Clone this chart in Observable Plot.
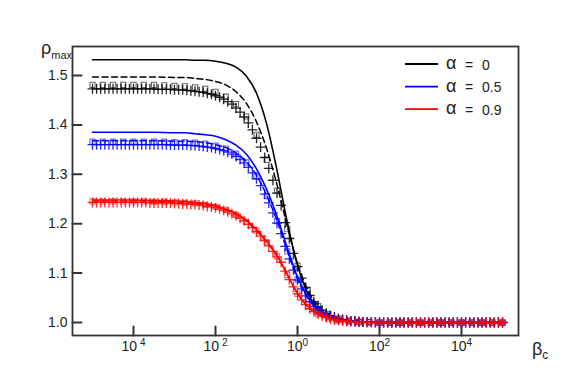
<!DOCTYPE html>
<html><head><meta charset="utf-8">
<script src="https://cdn.jsdelivr.net/npm/d3@7"></script>
<script src="https://cdn.jsdelivr.net/npm/@observablehq/plot@0.6"></script>
<style>
body{margin:0;background:#fff}
#chart{position:relative;width:576px;height:384px}
</style>
</head><body><div id="chart"></div>
<script>
// ---- data (log10 of beta_c and rho_max values) ----
const alphaLabels = ["0", "0.5", "0.9"];
const colors = ["#000000", "#0000ff", "#ff0000"];

// smooth curves (solid & dashed)
const lgLine = [-5,-4,-3.5,-3,-2.75,-2.5,-2.25,-2,-1.75,-1.5,-1.25,-1,-0.75,-0.5,-0.25,0,0.25,0.5,0.75,1,1.25,1.5,1.75,2,2.5,3,4,5];
const solid0 = [1.532,1.532,1.532,1.532,1.532,1.531,1.531,1.529,1.525,1.517,1.499,1.464,1.401,1.308,1.203,1.116,1.059,1.028,1.013,1.006,1.003,1.001,1.001,1.000,1.000,1.000,1.000,1.000];
const dash0  = [1.497,1.497,1.497,1.496,1.496,1.494,1.492,1.488,1.481,1.467,1.444,1.406,1.351,1.279,1.195,1.119,1.066,1.034,1.017,1.008,1.004,1.002,1.001,1.000,1.000,1.000,1.000,1.000];
const solid5 = [1.385,1.385,1.385,1.384,1.384,1.382,1.380,1.377,1.370,1.359,1.341,1.311,1.269,1.215,1.151,1.092,1.051,1.026,1.013,1.007,1.003,1.002,1.001,1.000,1.000,1.000,1.000,1.000];
const dash5  = [1.368,1.368,1.368,1.367,1.367,1.366,1.364,1.360,1.354,1.343,1.326,1.298,1.257,1.206,1.145,1.088,1.049,1.025,1.013,1.006,1.003,1.001,1.001,1.000,1.000,1.000,1.000,1.000];
const solid9 = [1.248,1.248,1.247,1.246,1.245,1.243,1.241,1.237,1.230,1.221,1.207,1.188,1.164,1.136,1.097,1.059,1.033,1.017,1.009,1.004,1.002,1.001,1.000,1.000,1.000,1.000,1.000,1.000];
const dash9  = [1.246,1.246,1.245,1.244,1.243,1.242,1.239,1.235,1.228,1.219,1.205,1.186,1.162,1.135,1.097,1.059,1.032,1.017,1.008,1.004,1.002,1.001,1.000,1.000,1.000,1.000,1.000,1.000];

// square markers
const lgSquare = [-5,-4.75,-4.5,-4.25,-4,-3.75,-3.5,-3.25,-3,-2.75,-2.5,-2.25,-2,-1.75,-1.5,-1.25,-1,-0.75,-0.5,-0.25,0,0.25,0.5,0.75,1,1.25,1.5,1.75,2,2.25,2.5,2.75,3,3.25,3.5,3.75,4,4.25,4.5,4.75,5];
const square0 = [1.481,1.481,1.481,1.481,1.481,1.481,1.481,1.480,1.479,1.478,1.476,1.473,1.467,1.457,1.442,1.417,1.380,1.329,1.267,1.189,1.115,1.063,1.033,1.017,1.008,1.004,1.002,1.001,1.000,1.000,1.000,1.000,1.000,1.000,1.000,1.000,1.000,1.000,1.000,1.000,1.000];
const square5 = [1.366,1.366,1.366,1.366,1.366,1.366,1.366,1.366,1.365,1.365,1.364,1.362,1.358,1.352,1.342,1.324,1.296,1.256,1.205,1.144,1.087,1.048,1.025,1.013,1.006,1.003,1.001,1.001,1.000,1.000,1.000,1.000,1.000,1.000,1.000,1.000,1.000,1.000,1.000,1.000,1.000];
const square9 = [1.245,1.245,1.245,1.245,1.245,1.245,1.244,1.244,1.243,1.242,1.241,1.238,1.234,1.228,1.218,1.204,1.186,1.162,1.134,1.096,1.058,1.032,1.017,1.008,1.004,1.002,1.001,1.000,1.000,1.000,1.000,1.000,1.000,1.000,1.000,1.000,1.000,1.000,1.000,1.000,1.000];

// plus markers
const lgPlus = [-5,-4.9,-4.8,-4.7,-4.6,-4.5,-4.4,-4.3,-4.2,-4.1,-4,-3.9,-3.8,-3.7,-3.6,-3.5,-3.4,-3.3,-3.2,-3.1,-3,-2.9,-2.8,-2.7,-2.6,-2.5,-2.4,-2.3,-2.2,-2.1,-2,-1.9,-1.8,-1.7,-1.6,-1.5,-1.4,-1.3,-1.2,-1.1,-1,-0.9,-0.8,-0.7,-0.6,-0.5,-0.4,-0.3,-0.2,-0.1,0,0.1,0.2,0.3,0.4,0.5,0.6,0.7,0.8,0.9,1,1.1,1.2,1.3,1.4,1.5,1.6,1.7,1.8,1.9,2,2.1,2.2,2.3,2.4,2.5,2.6,2.7,2.8,2.9,3,3.1,3.2,3.3,3.4,3.5,3.6,3.7,3.8,3.9,4,4.1,4.2,4.3,4.4,4.5,4.6,4.7,4.8,4.9,5];
const plus0 = [1.473,1.473,1.473,1.473,1.473,1.473,1.473,1.473,1.473,1.473,1.473,1.473,1.473,1.473,1.473,1.473,
  1.472,1.472,1.472,1.472,1.471,1.471,1.471,1.470,1.469,1.468,
  1.467,1.466,1.464,1.462,1.459,1.456,1.452,1.447,1.442,1.434,
  1.426,1.416,1.404,1.390,1.373,1.355,1.334,1.312,1.288,1.262,
  1.237,1.202,1.170,1.140,1.113,1.090,1.071,1.055,1.042,1.032,
  1.025,1.019,1.014,1.011,1.008,1.006,1.005,1.003,1.003,1.002,
  1.001,1.001,1.001,1.001,
  1.000,1.000,1.000,1.000,1.000,1.000,1.000,1.000,1.000,1.000,1.000,1.000,1.000,1.000,1.000,1.000,1.000,1.000,1.000,1.000,1.000,1.000,1.000,1.000,1.000,1.000,1.000,1.000,1.000,1.000,1.000];
const plus5 = [1.360,1.360,1.360,1.360,1.360,1.360,1.360,1.360,1.360,1.360,1.360,1.360,1.360,1.360,1.360,1.360,1.360,1.360,1.360,
  1.359,1.359,1.359,1.359,1.359,
  1.358,1.358,1.357,1.356,1.355,1.354,1.352,1.350,1.348,1.345,
  1.341,1.336,1.330,1.323,1.314,1.303,1.291,1.277,1.260,1.242,
  1.222,1.201,1.180,1.154,1.129,1.106,1.086,1.068,1.054,1.042,
  1.032,1.025,1.019,1.014,1.011,1.008,1.006,1.005,1.003,1.003,
  1.002,1.001,1.001,1.001,1.001,
  1.000,1.000,1.000,1.000,1.000,1.000,1.000,1.000,1.000,1.000,1.000,1.000,1.000,1.000,1.000,1.000,1.000,1.000,1.000,1.000,1.000,1.000,1.000,1.000,1.000,1.000,1.000,1.000,1.000,1.000,1.000,1.000];
const plus9 = [1.243,1.243,1.243,1.243,1.243,1.243,1.243,1.243,1.243,1.243,1.243,1.243,1.243,1.243,
  1.242,1.242,1.242,1.242,1.242,1.242,
  1.241,1.241,1.240,1.240,1.239,1.239,1.238,1.237,1.235,1.234,
  1.232,1.230,1.227,1.224,1.220,1.216,1.211,1.206,1.199,1.192,
  1.184,1.175,1.166,1.155,1.144,1.133,1.122,1.104,1.087,1.072,
  1.058,1.046,1.036,1.028,1.022,1.017,1.013,1.010,1.007,1.005,
  1.004,1.003,1.002,1.002,1.001,1.001,1.001,
  1.000,1.000,1.000,1.000,1.000,1.000,1.000,1.000,1.000,1.000,1.000,1.000,1.000,1.000,1.000,1.000,1.000,1.000,1.000,1.000,1.000,1.000,1.000,1.000,1.000,1.000,1.000,1.000,1.000,1.000,1.000,1.000,1.000,1.000];

// axes
const xTickLg = [-4, -2, 0, 2, 4];
const xTickExp = ["\u00a04", "\u00a02", "0", "2", "4"];
const yTicks = [1.0, 1.1, 1.2, 1.3, 1.4, 1.5];
const yTickLabels = ["1.0", "1.1", "1.2", "1.3", "1.4", "1.5"];
const xLabel = ["β", "c"];
const yLabel = ["ρ", "max"];

// ---- build tables ----
const rows = (lgs, vals) => lgs.map((lg, i) => ({b: Math.pow(10, lg), v: vals[i]})).filter(d => d.v != null);
const solids = [solid0, solid5, solid9], dashes = [dash0, dash5, dash9];
const squares = [square0, square5, square9], pluses = [plus0, plus5, plus9];

const tickShape = {draw(context, l) { context.moveTo(0, 0); context.lineTo(0, -l); }};
const frameColor = "#333333";

const marks = [];
for (let k = 0; k < 3; k++) {
  const c = colors[k];
  marks.push(Plot.line(rows(lgLine, solids[k]), {x: "b", y: "v", stroke: c, strokeWidth: 1.6, curve: "monotone-x"}));
  marks.push(Plot.line(rows(lgLine, dashes[k]), {x: "b", y: "v", stroke: c, strokeWidth: 1.5, strokeDasharray: "6,3.5", curve: "monotone-x"}));
  marks.push(Plot.dot(rows(lgSquare, squares[k]), {x: "b", y: "v", symbol: "square", r: 2.9, stroke: c, fill: "none", strokeWidth: 1.1, strokeOpacity: 0.6}));
  marks.push(Plot.dot(rows(lgPlus, pluses[k]), {x: "b", y: "v", symbol: "plus", r: 3.3, stroke: c, strokeWidth: 1.3, strokeOpacity: 0.85}));
}

const xTickVals = xTickLg.map(lg => Math.pow(10, lg));
marks.push(Plot.frame({stroke: frameColor, strokeWidth: 1.8}));
marks.push(Plot.vector(xTickVals, {x: d => d, frameAnchor: "bottom", length: 9, anchor: "start", shape: tickShape, stroke: frameColor, strokeWidth: 2}));
marks.push(Plot.vector(yTicks, {y: d => d, frameAnchor: "left", length: 9, rotate: 90, anchor: "start", shape: tickShape, stroke: frameColor, strokeWidth: 2}));
marks.push(Plot.axisX(xTickVals, {tickSize: 0, tickPadding: 6, fontSize: 14, fill: "#222", label: null,
  tickFormat: d => xTickExp[xTickLg.indexOf(Math.round(Math.log10(d)))]}));
marks.push(Plot.axisY(yTicks, {tickSize: 0, tickPadding: 5, fontSize: 14, fill: "#222", label: null,
  tickFormat: d => yTickLabels[yTicks.indexOf(d)]}));

const svg = Plot.plot({
  width: 576, height: 384,
  marginLeft: 72, marginRight: 58, marginTop: 46, marginBottom: 49,
  style: {fontFamily: "'Liberation Sans', Arial, sans-serif", background: "#fff", color: "#222"},
  x: {type: "log", domain: [Math.pow(10, -5.488), Math.pow(10, 5.39)], axis: null, label: null},
  y: {domain: [0.9737, 1.5587], axis: null, label: null},
  marks
});
document.getElementById("chart").appendChild(svg);

const s = d3.select(svg);
// superscript exponents on x tick labels
s.selectAll('g[aria-label="x-axis tick label"] text').each(function() {
  const e = this.textContent;
  const t = d3.select(this);
  t.text("10");
  t.append("tspan").attr("dy", "-0.5em").attr("font-size", "10px").text(e);
});

// axis titles
const font = "'Liberation Sans', Arial, sans-serif";
const yl = s.append("text").attr("x", 41).attr("y", 54).attr("text-anchor", "start").attr("font-family", font).attr("fill", "#222");
yl.append("tspan").attr("font-size", 18).text(yLabel[0]);
yl.append("tspan").attr("font-size", 11).attr("dy", 5).text(yLabel[1]);
const xl = s.append("text").attr("x", 532).attr("y", 355).attr("text-anchor", "start").attr("font-family", font).attr("fill", "#222");
xl.append("tspan").attr("font-size", 18).text(xLabel[0]);
xl.append("tspan").attr("font-size", 12).attr("dy", 4).text(xLabel[1]);

// legend
const lg = s.append("g").attr("font-family", font).attr("fill", "#222").attr("text-anchor", "start");
alphaLabels.forEach((lab, i) => {
  const y = 64 + i * 22.6;
  lg.append("line").attr("x1", 405).attr("x2", 438).attr("y1", y).attr("y2", y)
    .attr("stroke", colors[i]).attr("stroke-width", 1.8);
  lg.append("text").attr("x", 446).attr("y", y + 5).attr("font-size", 18).text("α");
  lg.append("text").attr("x", 465).attr("y", y + 5.5).attr("font-size", 14).text("=");
  lg.append("text").attr("x", 482).attr("y", y + 5.5).attr("font-size", 14).text(lab);
});
</script>
</body></html>
